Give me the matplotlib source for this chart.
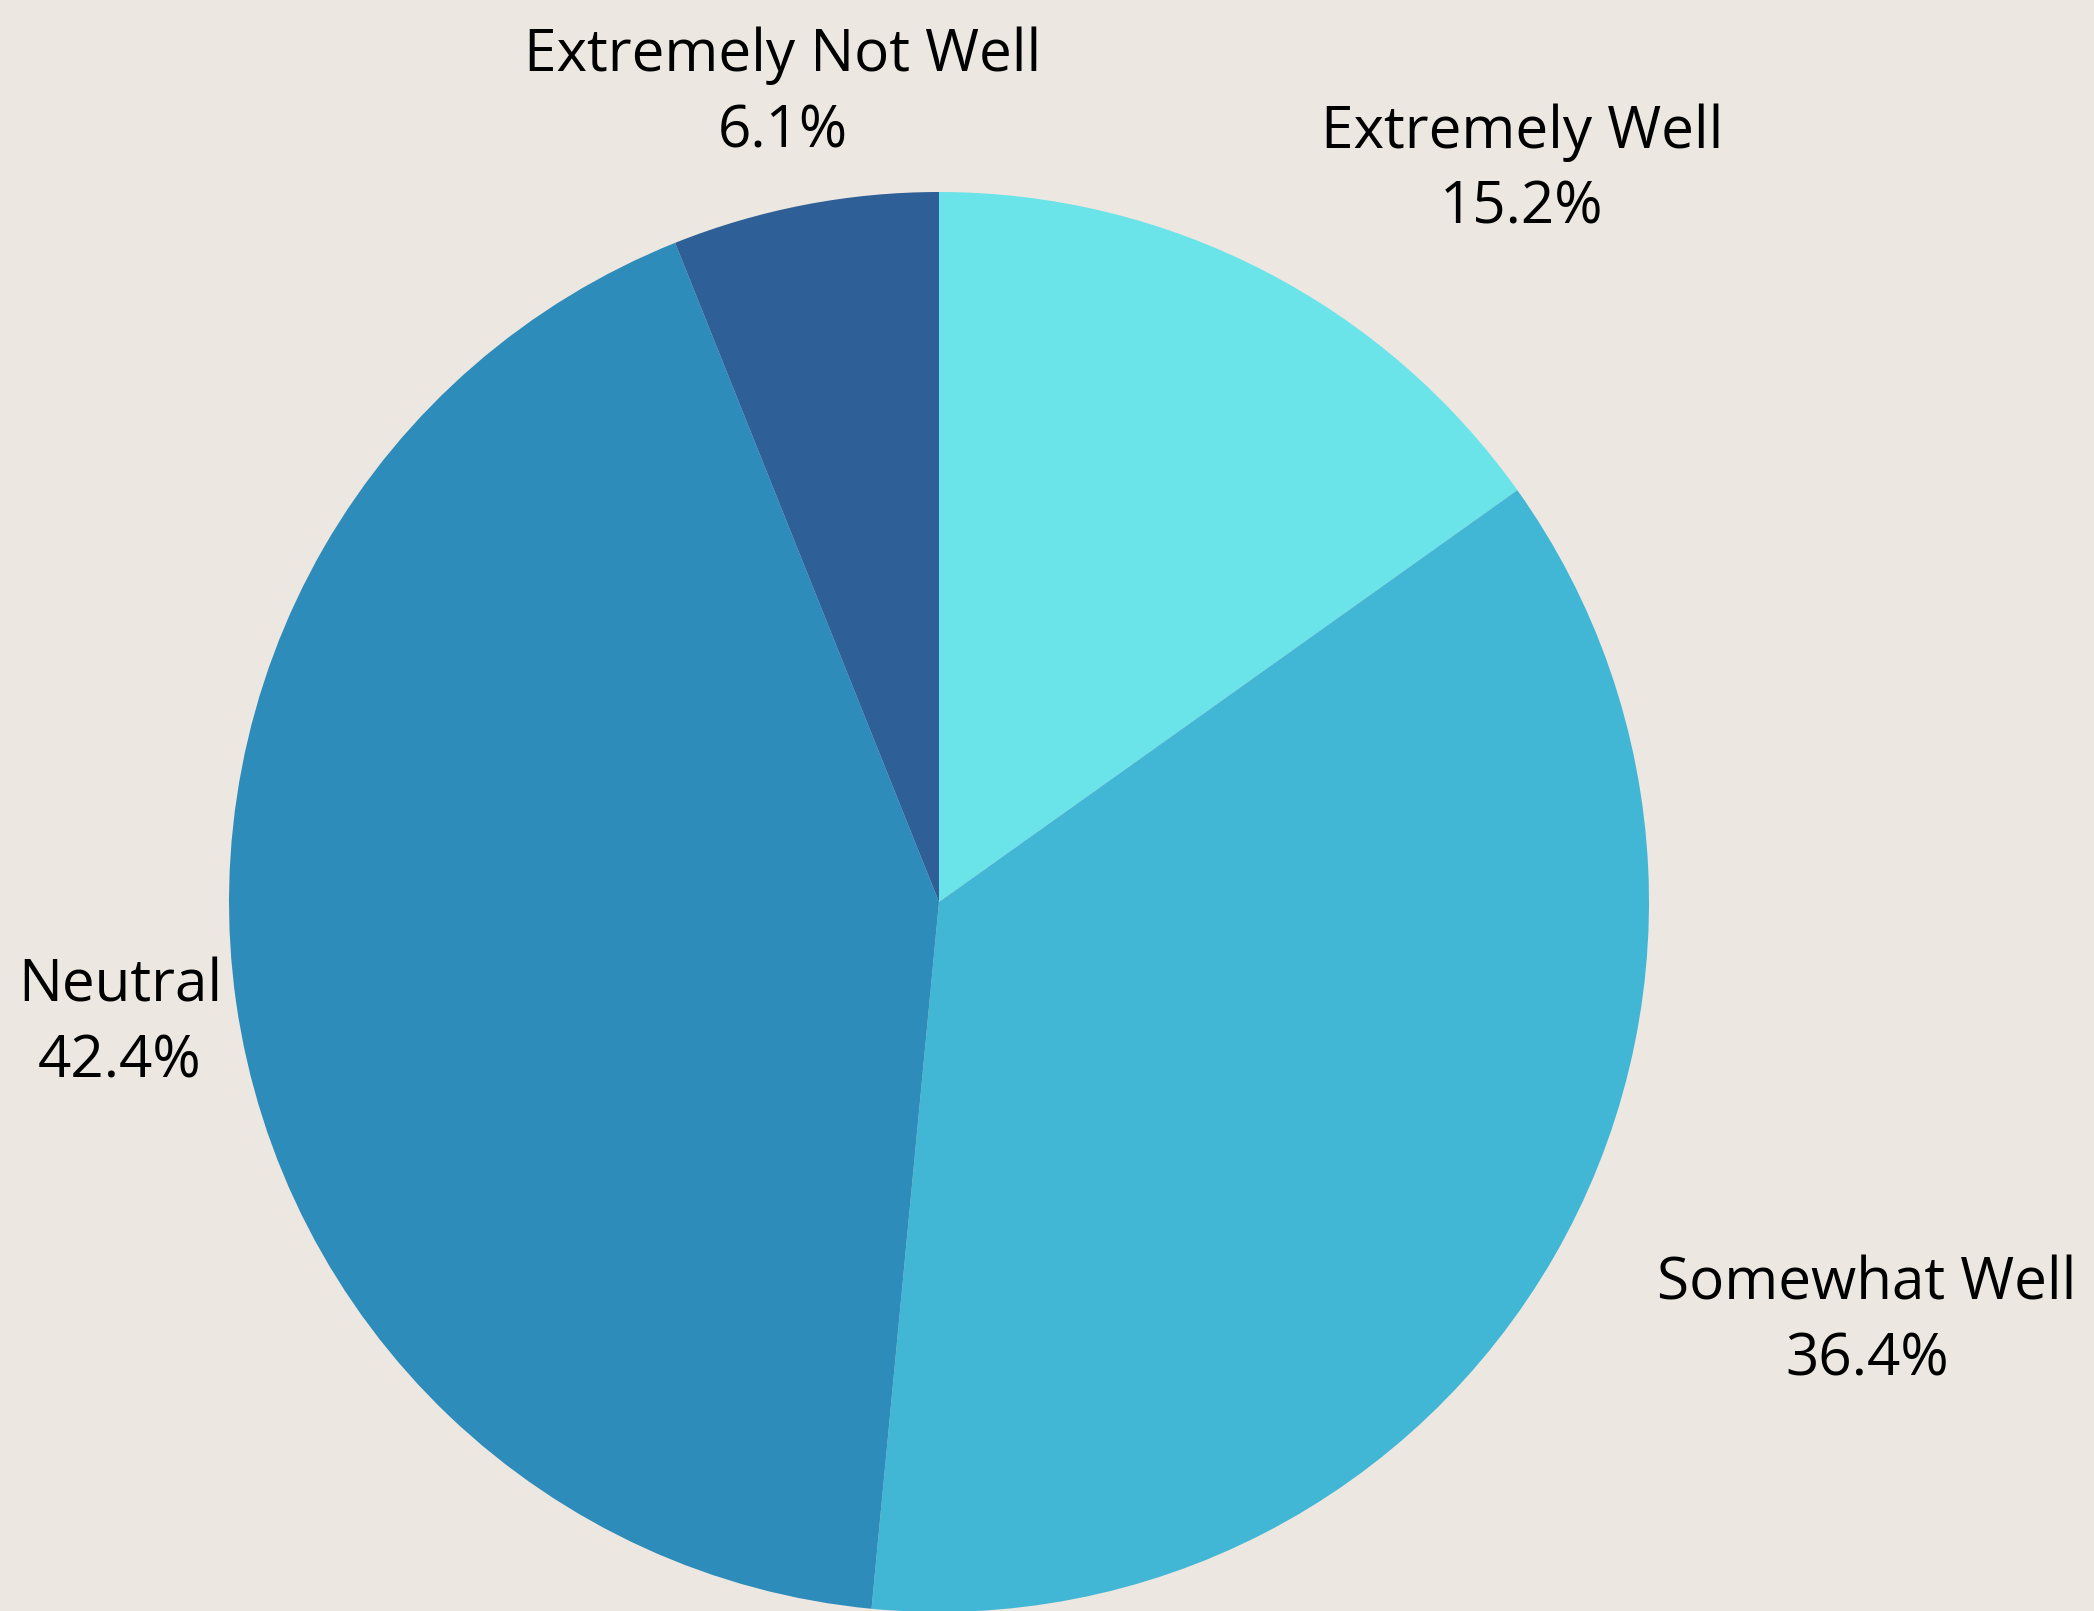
import matplotlib
matplotlib.use("Agg")
import matplotlib.pyplot as plt

# Survey responses (33 total)
labels = ["Extremely Well", "Somewhat Well", "Neutral", "Extremely Not Well"]
counts = [5, 12, 14, 2]
colors = ["#6ae4e8", "#42b6d5", "#2d8cba", "#2e5f96"]

# label anchor points in pixels (x center, baseline of first line)
label_pos = [(1522, 148), (1867, 1299), (120, 1002), (783, 71)]

W, H = 2094, 1611
bg = "#ece7e1"

plt.rcParams["font.family"] = ["Open Sans", "DejaVu Sans"]

fig = plt.figure(figsize=(W / 100, H / 100), dpi=100, facecolor=bg)
ax = fig.add_axes([0, 0, 1, 1])
ax.set_facecolor(bg)

ax.pie(counts, colors=colors, startangle=90, counterclock=False,
       center=(939, H - 902), radius=710, frame=True,
       wedgeprops=dict(linewidth=0))
ax.set_xlim(0, W)
ax.set_ylim(0, H)
ax.set_aspect("equal")
ax.axis("off")

total = sum(counts)
for lab, c, (x, y) in zip(labels, counts, label_pos):
    ax.text(x, H - y, lab, ha="center", va="baseline", fontsize=42, color="black")
    ax.text(x, H - y - 76, f"{c / total * 100:.1f}%", ha="center", va="baseline",
            fontsize=42, color="black")

fig.savefig("out.png", dpi=100, facecolor=bg)
